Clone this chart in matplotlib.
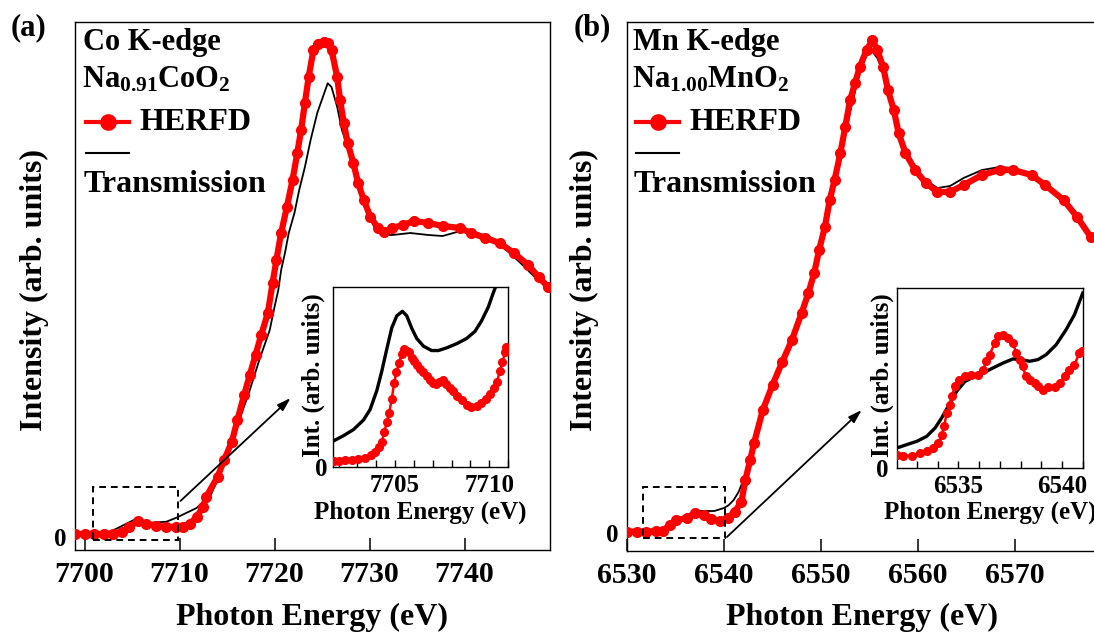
import matplotlib
matplotlib.use('Agg')
import matplotlib.pyplot as plt
from matplotlib.lines import Line2D
from matplotlib.patches import Rectangle
from matplotlib.ticker import MultipleLocator

plt.rcParams['font.family'] = 'Liberation Serif'
plt.rcParams['font.weight'] = 'bold'
plt.rcParams['mathtext.fontset'] = 'custom'
plt.rcParams['mathtext.rm'] = 'Liberation Serif:bold'
plt.rcParams['mathtext.bf'] = 'Liberation Serif:bold'
plt.rcParams['mathtext.it'] = 'Liberation Serif:bold'

# ---- data ----
# (a) Co K-edge, Na0.91CoO2
co_herfd_e = [7699.0, 7700.0, 7701.0, 7702.0, 7703.0, 7703.9, 7704.7, 7705.6, 7706.5, 7707.5,
              7708.6, 7709.6, 7710.4, 7711.1, 7711.8, 7712.5, 7712.8, 7714.0, 7714.7, 7715.5,
              7716.1, 7716.8, 7717.4, 7718.0, 7718.6, 7719.3, 7719.8, 7720.2, 7720.7, 7721.3,
              7721.9, 7722.4, 7722.8, 7723.2, 7723.6, 7724.1, 7724.6, 7725.2, 7725.6, 7726.0,
              7726.6, 7726.9, 7727.3, 7727.7, 7728.3, 7728.8, 7729.4, 7730.1, 7730.9, 7731.5,
              7732.4, 7733.5, 7734.7, 7736.2, 7737.7, 7739.5, 7740.7, 7742.2, 7743.7, 7745.2,
              7746.7, 7747.8, 7748.8]
co_herfd_y = [0.012, 0.012, 0.012, 0.012, 0.014, 0.020, 0.040, 0.064, 0.052, 0.045,
              0.041, 0.040, 0.041, 0.052, 0.081, 0.121, 0.160, 0.240, 0.308, 0.380,
              0.468, 0.568, 0.648, 0.728, 0.808, 0.896, 1.016, 1.108, 1.216, 1.320,
              1.428, 1.536, 1.628, 1.736, 1.841, 1.948, 1.972, 1.980, 1.976, 1.948,
              1.840, 1.748, 1.656, 1.576, 1.496, 1.416, 1.348, 1.280, 1.236, 1.220,
              1.236, 1.248, 1.264, 1.256, 1.244, 1.236, 1.216, 1.196, 1.176, 1.136,
              1.088, 1.040, 1.000]
co_trans_e = [7699.0, 7702.0, 7703.3, 7705.4, 7706.8, 7708.6, 7709.6, 7710.7, 7711.8, 7712.5,
              7713.2, 7714.2, 7715.3, 7716.3, 7717.4, 7718.4, 7719.5, 7720.0, 7720.4, 7720.7,
              7721.1, 7721.5, 7722.1, 7722.6, 7723.2, 7723.8, 7724.5, 7725.1, 7725.6, 7726.0,
              7726.6, 7727.1, 7727.7, 7728.3, 7729.0, 7729.8, 7730.5, 7731.3, 7732.4, 7734.3,
              7736.2, 7737.7, 7739.2, 7740.3, 7741.4, 7742.9, 7744.4, 7745.9, 7747.4, 7748.8]
co_trans_y = [0.012, 0.012, 0.032, 0.072, 0.057, 0.061, 0.076, 0.096, 0.116, 0.140,
              0.160, 0.248, 0.348, 0.468, 0.588, 0.708, 0.828, 0.920, 0.988, 1.068,
              1.136, 1.216, 1.296, 1.388, 1.480, 1.588, 1.696, 1.761, 1.815, 1.800,
              1.720, 1.628, 1.560, 1.480, 1.400, 1.320, 1.240, 1.208, 1.208, 1.216,
              1.208, 1.204, 1.220, 1.228, 1.216, 1.196, 1.148, 1.096, 1.040, 0.996]

# inset (a), pre-edge
co_in_herfd_e = [7701.73, 7702.0, 7702.35, 7702.7, 7703.05, 7703.4, 7703.7, 7703.94, 7704.15, 7704.29,
                 7704.43, 7704.56, 7704.68, 7704.82, 7704.95, 7705.07, 7705.21, 7705.35, 7705.48, 7705.62,
                 7705.74, 7705.88, 7706.02, 7706.15, 7706.32, 7706.5, 7706.68, 7706.85, 7707.03, 7707.17,
                 7707.35, 7707.52, 7707.7, 7707.91, 7708.09, 7708.3, 7708.53, 7708.8, 7709.06, 7709.33,
                 7709.59, 7709.82, 7710.03, 7710.25, 7710.42, 7710.56, 7710.7, 7710.85, 7710.92]
co_in_herfd_y = [0.035, 0.035, 0.037, 0.041, 0.044, 0.052, 0.064, 0.083, 0.112, 0.139,
                 0.193, 0.251, 0.299, 0.376, 0.467, 0.525, 0.579, 0.627, 0.656, 0.647,
                 0.637, 0.608, 0.589, 0.564, 0.544, 0.525, 0.506, 0.483, 0.467, 0.463,
                 0.473, 0.483, 0.463, 0.440, 0.421, 0.396, 0.371, 0.347, 0.332, 0.340,
                 0.357, 0.376, 0.405, 0.440, 0.473, 0.531, 0.583, 0.637, 0.666]
co_in_trans_e = [7701.73, 7702.26, 7702.79, 7703.32, 7703.67, 7704.03, 7704.29, 7704.56, 7704.82, 7705.09,
                 7705.39, 7705.62, 7705.88, 7706.15, 7706.5, 7706.94, 7707.3, 7707.74, 7708.27, 7708.8,
                 7709.24, 7709.59, 7709.95, 7710.21, 7710.42]
co_in_trans_y = [0.145, 0.174, 0.208, 0.261, 0.319, 0.425, 0.531, 0.656, 0.772, 0.840,
                 0.865, 0.840, 0.772, 0.714, 0.672, 0.647, 0.647, 0.662, 0.685, 0.714,
                 0.753, 0.811, 0.888, 0.965, 1.023]

# (b) Mn K-edge, Na1.00MnO2
mn_herfd_e = [6530.0, 6531.0, 6532.0, 6533.0, 6533.7, 6534.4, 6535.1, 6536.2, 6537.0, 6537.9,
              6538.7, 6539.6, 6540.4, 6541.1, 6541.8, 6542.2, 6542.7, 6543.1, 6544.0, 6545.0,
              6546.0, 6547.0, 6548.0, 6548.7, 6549.3, 6549.8, 6550.4, 6550.9, 6551.4, 6552.0,
              6552.5, 6553.0, 6553.5, 6554.0, 6554.7, 6555.3, 6555.8, 6556.4, 6556.9, 6557.5,
              6558.0, 6558.7, 6559.7, 6560.8, 6562.0, 6563.3, 6564.7, 6566.6, 6568.4, 6569.8,
              6571.7, 6573.1, 6575.0, 6576.4, 6577.8]
mn_herfd_y = [0.005, 0.006, 0.006, 0.008, 0.009, 0.032, 0.052, 0.060, 0.079, 0.072,
              0.056, 0.049, 0.060, 0.085, 0.125, 0.212, 0.292, 0.360, 0.492, 0.592,
              0.684, 0.772, 0.880, 0.960, 1.040, 1.132, 1.224, 1.332, 1.412, 1.520,
              1.625, 1.732, 1.799, 1.865, 1.932, 1.972, 1.932, 1.865, 1.772, 1.692,
              1.600, 1.520, 1.452, 1.400, 1.364, 1.364, 1.392, 1.432, 1.452, 1.452,
              1.432, 1.392, 1.332, 1.264, 1.184]
mn_trans_e = [6530.0, 6533.0, 6534.0, 6535.0, 6536.0, 6537.0, 6538.0, 6539.0, 6540.0, 6540.5,
              6541.0, 6541.5, 6542.0, 6542.5, 6543.0, 6544.0, 6545.0, 6546.0, 6547.0, 6548.0,
              6549.0, 6550.0, 6551.0, 6552.0, 6553.0, 6554.0, 6554.7, 6555.2, 6555.8, 6556.4,
              6557.0, 6557.5, 6558.0, 6558.7, 6559.7, 6560.8, 6562.0, 6563.3, 6564.7, 6566.6,
              6568.4, 6569.8, 6571.7, 6573.1, 6575.0, 6576.4, 6577.8]
mn_trans_y = [0.005, 0.008, 0.020, 0.044, 0.068, 0.088, 0.088, 0.088, 0.100, 0.112,
              0.132, 0.164, 0.212, 0.272, 0.340, 0.484, 0.588, 0.684, 0.780, 0.880,
              0.992, 1.152, 1.332, 1.500, 1.684, 1.844, 1.912, 1.932, 1.900, 1.844,
              1.760, 1.684, 1.600, 1.524, 1.460, 1.412, 1.380, 1.388, 1.420, 1.452,
              1.464, 1.460, 1.436, 1.400, 1.340, 1.276, 1.196]

# inset (b), pre-edge
mn_in_herfd_e = [6532.04, 6532.36, 6532.76, 6533.16, 6533.48, 6533.8, 6534.04, 6534.2, 6534.32, 6534.44,
                 6534.6, 6534.68, 6534.84, 6535.04, 6535.32, 6535.63, 6535.95, 6536.19, 6536.35, 6536.51,
                 6536.75, 6536.91, 6537.15, 6537.39, 6537.63, 6537.79, 6537.95, 6538.11, 6538.24, 6538.43,
                 6538.67, 6538.83, 6539.07, 6539.31, 6539.63, 6539.87, 6540.11, 6540.35, 6540.59, 6540.83,
                 6540.95]
mn_in_herfd_y = [0.074, 0.069, 0.069, 0.083, 0.093, 0.111, 0.139, 0.185, 0.231, 0.306,
                 0.352, 0.398, 0.454, 0.491, 0.509, 0.519, 0.519, 0.546, 0.593, 0.630,
                 0.694, 0.731, 0.741, 0.722, 0.694, 0.639, 0.602, 0.565, 0.509, 0.491,
                 0.472, 0.454, 0.431, 0.450, 0.450, 0.472, 0.509, 0.546, 0.574, 0.639,
                 0.648]
mn_in_trans_e = [6532.04, 6532.52, 6533.0, 6533.48, 6533.88, 6534.2, 6534.6, 6534.92, 6535.32, 6535.79,
                 6536.19, 6536.67, 6537.15, 6537.63, 6538.03, 6538.43, 6538.83, 6539.23, 6539.71, 6540.19,
                 6540.59, 6540.99]
mn_in_trans_y = [0.111, 0.130, 0.148, 0.176, 0.222, 0.278, 0.361, 0.426, 0.481, 0.509,
                 0.528, 0.556, 0.583, 0.606, 0.602, 0.593, 0.602, 0.630, 0.685, 0.769,
                 0.852, 0.972]

co_ticks = [7700, 7710, 7720, 7730, 7740]
mn_ticks = [6530, 6540, 6550, 6560, 6570]
co_in_ticks = [7705, 7710]
mn_in_ticks = [6535, 6540]

W, H = 1094, 637
RED = '#ff0000'


def box(l, t, r, b):
    # pixel box -> figure fraction rect
    return [l / W, 1 - b / H, (r - l) / W, (b - t) / H]


def ftext(x, y, s, **kw):
    fig.text(x / W, 1 - y / H, s, **kw)


def fline(x, y, **kw):
    fig.add_artist(Line2D([v / W for v in x], [1 - v / H for v in y],
                          transform=fig.transFigure, **kw))


fig = plt.figure(figsize=(W / 100, H / 100), dpi=100)

panels = [
    dict(pos=(75, 22, 550, 550), xlim=(7699.0, 7749.0), ylim=(-0.052, 2.06), ticks=co_ticks,
         herfd=(co_herfd_e, co_herfd_y), trans=(co_trans_e, co_trans_y),
         rect=(7700.9, -0.012, 7709.8, 0.200), arrow=((7710.1, 0.144), (7721.7, 0.556)),
         ipos=(333, 287, 508, 467), ixlim=(7701.7, 7711.0), iticks=co_in_ticks,
         iherfd=(co_in_herfd_e, co_in_herfd_y), itrans=(co_in_trans_e, co_in_trans_y),
         lab='(a)', labx=29, left=83, elem='Co K-edge', comp=r'$\mathrm{Na_{0.91}CoO_2}$',
         ylx=34, ilx=313, ipad=4, xlc=312),
    dict(pos=(627, 22, 1097, 550.5), xlim=(6530.0, 6578.45), ylim=(-0.07, 2.044), ticks=mn_ticks,
         herfd=(mn_herfd_e, mn_herfd_y), trans=(mn_trans_e, mn_trans_y),
         rect=(6531.7, -0.02, 6540.1, 0.184), arrow=((6540.3, -0.016), (6554.2, 0.492)),
         ipos=(897, 288, 1083, 468), ixlim=(6532.05, 6541.0), iticks=mn_in_ticks,
         iherfd=(mn_in_herfd_e, mn_in_herfd_y), itrans=(mn_in_trans_e, mn_in_trans_y),
         lab='(b)', labx=592, left=633, elem='Mn K-edge', comp=r'$\mathrm{Na_{1.00}MnO_2}$',
         ylx=584, ilx=882, ipad=6, xlc=862),
]

for p in panels:
    l, t, r, b = p['pos']
    ax = fig.add_axes(box(l, t, r, b))
    ax.plot(p['trans'][0], p['trans'][1], color='k', lw=1.3, zorder=2)
    ax.plot(p['herfd'][0], p['herfd'][1], color=RED, lw=4.5, marker='o', ms=7,
            mec=RED, mfc=RED, solid_capstyle='round', zorder=3)
    x0, y0, x1, y1 = p['rect']
    ax.add_patch(Rectangle((x0, y0), x1 - x0, y1 - y0, fill=False, ec='k', lw=1.4,
                           ls=(0, (3.5, 2.5)), zorder=4))
    ax.annotate('', xy=p['arrow'][1], xytext=p['arrow'][0],
                arrowprops=dict(arrowstyle='-|>,head_length=0.8,head_width=0.25',
                                color='k', lw=1.3, shrinkA=0, shrinkB=0))
    ax.set_xlim(*p['xlim'])
    ax.set_ylim(*p['ylim'])
    ax.set_xticks(p['ticks'])
    ax.set_yticks([0])
    ax.set_yticklabels(['0'], fontsize=18)
    ax.tick_params(axis='x', direction='in', length=9, width=1.1, labelsize=21.5, pad=8)
    ax.tick_params(axis='y', length=0, pad=6)
    for s in ax.spines.values():
        s.set_linewidth(1.0)

    # inset
    il, it, ir, ib = p['ipos']
    axi = fig.add_axes(box(il, it, ir, ib))
    axi.plot(p['itrans'][0], p['itrans'][1], color='k', lw=2.4, zorder=2)
    axi.plot(p['iherfd'][0], p['iherfd'][1], color=RED, lw=1.8, marker='o', ms=5.5,
             mec=RED, mfc=RED, zorder=3)
    axi.set_xlim(*p['ixlim'])
    axi.set_ylim(0, 1)
    axi.set_xticks(p['iticks'])
    axi.xaxis.set_minor_locator(MultipleLocator(1))
    axi.set_yticks([0])
    axi.set_yticklabels(['0'], fontsize=18)
    axi.tick_params(axis='x', which='both', direction='in', length=5, width=1.0,
                    labelsize=18, pad=5)
    axi.tick_params(axis='y', length=0, pad=p['ipad'])
    for s in axi.spines.values():
        s.set_linewidth(1.0)
    ftext((il + ir) / 2, 512, 'Photon Energy (eV)', fontsize=18, ha='center', va='center')
    ftext(p['ilx'], 375, 'Int. (arb. units)', fontsize=18, ha='center', va='center',
          rotation=90)

    # axis labels
    ftext(p['xlc'], 617, 'Photon Energy (eV)', fontsize=23, ha='center', va='center')
    ftext(p['ylx'], 290, 'Intensity (arb. units)', fontsize=23, ha='center', va='center',
          rotation=90)
    ftext(p['labx'], 28, p['lab'], fontsize=22, ha='center', va='center')

    # text legend block
    x = p['left']
    ftext(x, 50, p['elem'], fontsize=22, ha='left', va='baseline')
    ftext(x - 1, 88, p['comp'], fontsize=22, ha='left', va='baseline')
    fline([x + 3, x + 46], [122, 122], color=RED, lw=3)
    fline([x + 24.5], [122], color=RED, marker='o', ms=11, ls='none')
    ftext(x + 56, 122, 'HERFD', fontsize=23, ha='left', va='center')
    fline([x + 3, x + 46], [153, 153], color='k', lw=1.5)
    ftext(x + 1, 185, 'Transmission', fontsize=23, ha='left', va='center')

fig.savefig('out.png', dpi=100)
